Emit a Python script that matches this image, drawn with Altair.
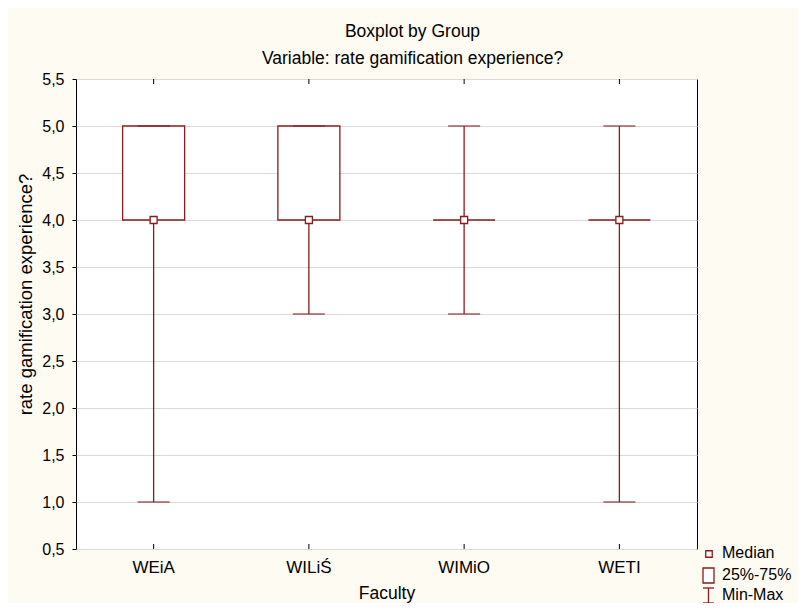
import altair as alt
import pandas as pd

# ---- data ----
faculties = ["WEiA", "WILiŚ", "WIMiO", "WETI"]
mins = [1.0, 3.0, 3.0, 1.0]
q1s = [4.0, 4.0, 4.0, 4.0]
medians = [4.0, 4.0, 4.0, 4.0]
q3s = [5.0, 5.0, 4.0, 4.0]
maxs = [5.0, 5.0, 5.0, 5.0]
y_ticks = [0.5, 1.0, 1.5, 2.0, 2.5, 3.0, 3.5, 4.0, 4.5, 5.0, 5.5]
legend_labels = ["Median", "25%-75%", "Min-Max"]

df = pd.DataFrame({
    "Faculty": faculties,
    "lo": mins,
    "q1": q1s,
    "median": medians,
    "q3": q3s,
    "hi": maxs,
})

RED = "#8B1A1A"
FONT = "Liberation Sans"
W, H = 621, 470

x = alt.X(
    "Faculty:N",
    sort=faculties,
    scale=alt.Scale(paddingInner=0, paddingOuter=0),
    axis=alt.Axis(
        title="Faculty", labelAngle=0, ticks=False, domain=False, grid=False,
        labelFont=FONT, labelFontSize=17, labelColor="black", labelPadding=10,
        titleFont=FONT, titleFontSize=17.5, titleColor="black", titleFontWeight="normal",
        titleY=44, titleBaseline="middle",
    ),
)
y = alt.Y(
    "lo:Q",
    scale=alt.Scale(domain=[0.5, 5.5], nice=False, zero=False),
    axis=alt.Axis(
        values=y_ticks,
        labelExpr="replace(format(datum.value, '.1f'), '.', ',')",
        title="rate gamification experience?",
        grid=True, gridColor="#d9d9d9", gridWidth=1,
        tickSize=4, tickColor="black", domain=False,
        labelFont=FONT, labelFontSize=16, labelColor="black", labelPadding=8,
        titleFont=FONT, titleFontSize=18.5, titleColor="black", titleFontWeight="normal",
        titleX=-51, titleY=215, titleAngle=270, titleBaseline="middle", titleAlign="center",
    ),
)

base = alt.Chart(df)

whisker = base.mark_rule(color=RED, strokeWidth=1.3).encode(x=x, y=y, y2="hi:Q")
box = base.mark_bar(size=62, fill="white", stroke=RED, strokeWidth=1.3).encode(
    x=x, y="q1:Q", y2="q3:Q")
cap_lo = base.mark_tick(color=RED, size=32, thickness=1.3, orient="horizontal").encode(
    x=x, y="lo:Q")
cap_hi = base.mark_tick(color=RED, size=32, thickness=1.3, orient="horizontal").encode(
    x=x, y="hi:Q")
med = base.mark_square(size=49, fill="white", stroke=RED, strokeWidth=1.3, opacity=1).encode(
    x=x, y="median:Q")
xt_bottom = base.mark_rule(color="black", strokeWidth=1).encode(
    x=x, y=alt.value(H), y2=alt.value(H - 5))
xt_top = base.mark_rule(color="black", strokeWidth=1).encode(
    x=x, y=alt.value(0), y2=alt.value(5))

# ---- legend (drawn below-right of the plot frame) ----
one = alt.Chart(pd.DataFrame({"k": [0]}))
leg_med = one.mark_square(size=42, fill="white", stroke=RED, strokeWidth=1.3, opacity=1).encode(
    x=alt.value(633), y=alt.value(475))
leg_box = one.mark_rect(fill="white", stroke=RED, strokeWidth=1.3).encode(
    x=alt.value(627), x2=alt.value(638), y=alt.value(489), y2=alt.value(504))
leg_wv = one.mark_rule(color=RED, strokeWidth=1.3).encode(
    x=alt.value(632.5), y=alt.value(509), y2=alt.value(524))
leg_wt = one.mark_rule(color=RED, strokeWidth=1.3).encode(
    x=alt.value(627), x2=alt.value(638), y=alt.value(509))
leg_wb = one.mark_rule(color=RED, strokeWidth=1.3).encode(
    x=alt.value(627), x2=alt.value(638), y=alt.value(524))

leg_texts = []
for lab, ypos in zip(legend_labels, [474, 496, 516]):
    leg_texts.append(
        alt.Chart(pd.DataFrame({"label": [lab]})).mark_text(
            align="left", baseline="middle", font=FONT, fontSize=16, color="black"
        ).encode(x=alt.value(646), y=alt.value(ypos), text="label:N")
    )

chart = alt.layer(
    whisker, box, cap_lo, cap_hi, med, xt_bottom, xt_top,
    leg_med, leg_box, leg_wv, leg_wt, leg_wb, *leg_texts,
).properties(
    width=W,
    height=H,
    padding={"left": 68, "top": 71, "right": 101, "bottom": 54},
    autosize=alt.AutoSizeParams(type="none"),
    background="#FEFBF3",
    title=alt.TitleParams(
        text="Boxplot by Group",
        subtitle="Variable: rate gamification experience?",
        font=FONT, subtitleFont=FONT, fontSize=17.5, subtitleFontSize=17.5,
        fontWeight="normal", color="black", subtitleColor="black",
        anchor="middle", offset=4, subtitlePadding=9, dx=26,
    ),
).configure_view(stroke="black", strokeWidth=1, fill="white")

chart.save("out.html", embed_options={"renderer": "svg", "actions": False})
